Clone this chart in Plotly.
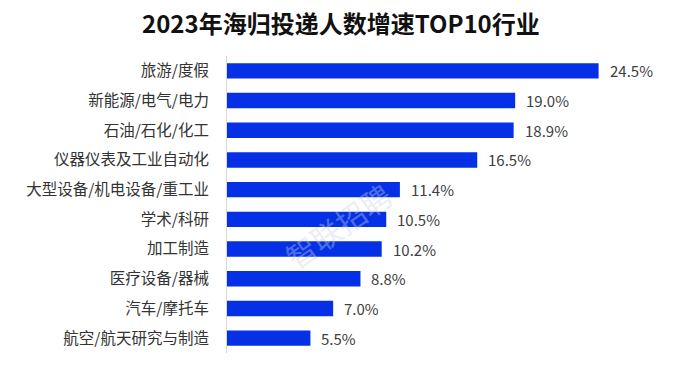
import plotly.graph_objects as go

categories = ["旅游/度假", "新能源/电气/电力", "石油/石化/化工", "仪器仪表及工业自动化",
              "大型设备/机电设备/重工业", "学术/科研", "加工制造", "医疗设备/器械",
              "汽车/摩托车", "航空/航天研究与制造"]
values = [24.5, 19.0, 18.9, 16.5, 11.4, 10.5, 10.2, 8.8, 7.0, 5.5]
value_labels = ["24.5%", "19.0%", "18.9%", "16.5%", "11.4%", "10.5%", "10.2%", "8.8%", "7.0%", "5.5%"]
title_text = "2023年海归投递人数增速TOP10行业"
watermark = "智联招聘"

font_cjk = "Noto Sans CJK SC, Microsoft YaHei, sans-serif"

fig = go.Figure(go.Bar(
    x=values, y=categories, orientation="h",
    marker=dict(color="#0530E6", line=dict(width=0)),
    hoverinfo="x+y",
))

for cat, v, lab in zip(categories, values, value_labels):
    fig.add_annotation(x=v, y=cat, text=lab, showarrow=False, xanchor="left",
                       xshift=9, yanchor="middle",
                       font=dict(family=font_cjk, size=15, color="#404040"))

fig.update_layout(
    width=684, height=361,
    margin=dict(l=219, r=10, t=48, b=16, autoexpand=False),
    paper_bgcolor="white", plot_bgcolor="white",
    bargap=0.48,
    showlegend=False,
)
fig.update_xaxes(range=[0, 30], showgrid=False, zeroline=False, showticklabels=False,
                 showline=False, fixedrange=True, automargin=False)
fig.update_yaxes(autorange="reversed", showgrid=False, zeroline=False,
                 showline=True, linecolor="#D9D9D9", linewidth=1,
                 ticks="", ticklabelstandoff=14, automargin=False,
                 tickfont=dict(family=font_cjk, size=15.5, color="#333333"))

# title as annotation (paper coords relative to plot area)
fig.add_annotation(text="<b>" + title_text + "</b>", xref="paper", yref="paper",
                   x=(333 - 219) / 455, y=1 + (48 - 15) / 297,
                   xanchor="center", yanchor="middle", showarrow=False,
                   font=dict(family=font_cjk, size=24, color="#111111"))

fig.add_annotation(text=watermark, xref="paper", yref="paper", x=0.245, y=0.43,
                   xanchor="center", yanchor="middle",
                   showarrow=False, textangle=-35,
                   font=dict(family=font_cjk, size=30, color="rgba(200,210,225,0.4)"))

fig.write_html("out.html")
